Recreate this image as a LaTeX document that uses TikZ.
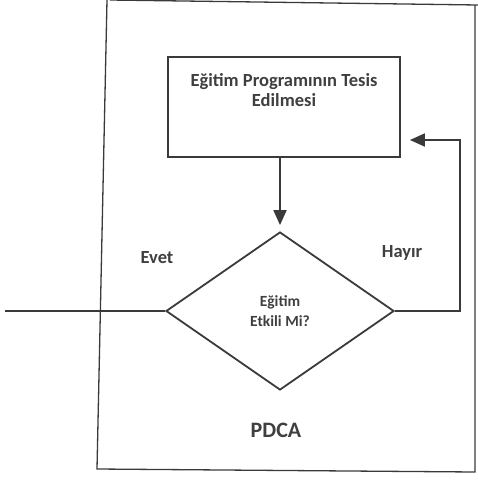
\documentclass[tikz,border=0pt]{standalone}
\usepackage{fontspec}
\setmainfont{Carlito}
\usetikzlibrary{shapes.geometric, arrows.meta, positioning}
\definecolor{inkgray}{HTML}{3A3A3A}
\definecolor{txtgray}{HTML}{3F3F3F}

\begin{document}
\begin{tikzpicture}[x = 1pt, y = -1pt,
  frame/.style = {draw = inkgray, line width = 1.3pt},
  line/.style = {draw = inkgray, line width = 1.8pt},
  arrow/.style = {line, -{Triangle[length = 15pt, width = 13pt]}},
  box/.style = {line, rectangle, minimum width = 232pt, minimum height = 100pt, inner sep = 0pt},
  decision/.style = {line, diamond, minimum width = 228pt, minimum height = 158pt, inner sep = 0pt,
    align = center, text = txtgray, font = \bfseries\fontsize{15.5}{20}\selectfont},
  lbl/.style = {text = txtgray, align = center, font = \bfseries\fontsize{18.5}{20}\selectfont}]

\useasboundingbox (0, 0) rectangle (478, 480);

% outer frame
\draw[frame] (110, 0) -- (478, 5);
\draw[frame] (475, 5) -- (475, 472) -- (97, 469) -- (107, 0);

\node[box] (prog) at (284, 107) {};
\node[lbl, below = 14pt of prog.north] (progtxt) {Eğitim Programının Tesis\\Edilmesi};

\node[decision] (check) at (280, 311) {Eğitim\\Etkili Mi?};

\coordinate (exit) at (5, 311);
\coordinate (back) at (460, 140);

\draw[arrow] (prog.south -| check.north) -- ([yshift = 6pt]check.north);
\draw[line] (check.west) -- (exit);
\draw[arrow] (check.east) -| (back) -- ([xshift = 9pt]prog.east |- back);

\node[lbl] (yes) at (157, 258) {Evet};
\node[lbl] (no) at (402, 253) {Hayır};
\node[lbl, font = \bfseries\fontsize{22}{24}\selectfont] (pdca) at (276, 430) {PDCA};

\end{tikzpicture}
\end{document}
